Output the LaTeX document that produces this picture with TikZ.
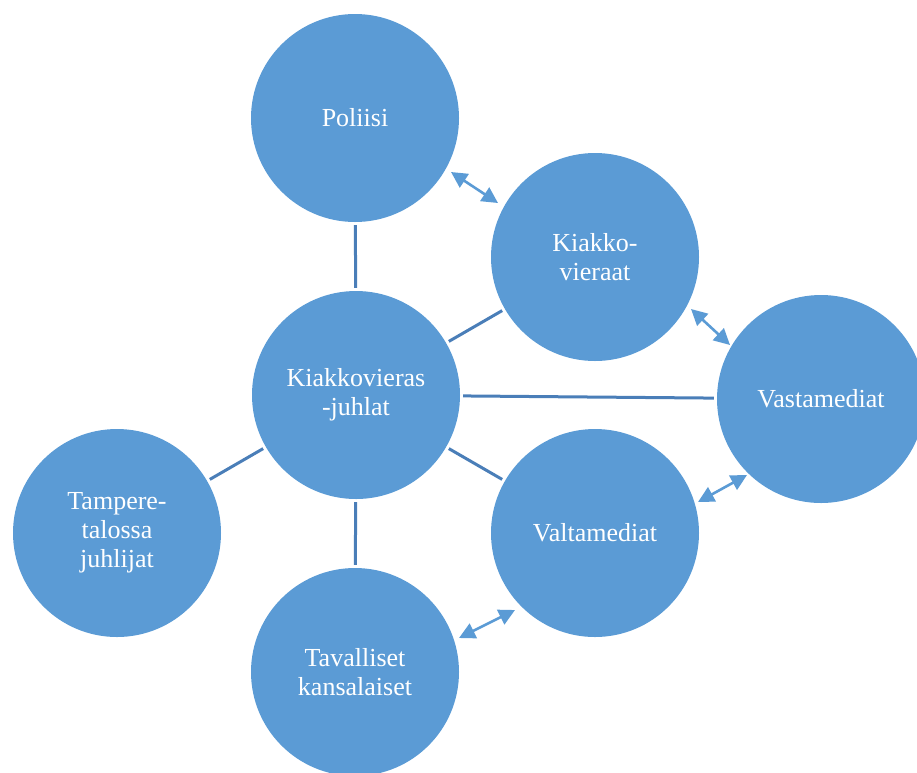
\documentclass[tikz,border=0pt]{standalone}
\usepackage{fontspec}
\setmainfont{Liberation Serif}
\usetikzlibrary{arrows.meta}
\definecolor{bubble}{HTML}{5B9BD5}
\definecolor{linkc}{HTML}{4A7EB8}
\tikzset{
  bub/.style={circle, fill=bubble, draw=none, minimum size=208pt, inner sep=0pt,
    text=white, align=center, font=\fontsize{26}{29}\selectfont},
  link/.style={draw=linkc, line width=3pt, shorten <=3pt, shorten >=3pt},
  dbl/.style={draw=bubble, line width=2.6pt,
    {Triangle[length=16pt,width=16pt]}-{Triangle[length=16pt,width=16pt]}}
}
\begin{document}
\begin{tikzpicture}[x=1pt,y=-1pt]
\useasboundingbox (0,0) rectangle (917,772);
\clip (0,0) rectangle (917,772);
\node[bub] (pol) at (355,118) {Poliisi};
\node[bub] (kia) at (595,257) {Kiakko-\\vieraat};
\node[bub] (mid) at (356,395) {Kiakkovieras\\-juhlat};
\node[bub] (vas) at (821,399) {Vastamediat};
\node[bub] (val) at (595,533) {Valtamediat};
\node[bub] (tav) at (355,672) {Tavalliset\\kansalaiset};
\node[bub] (tam) at (117,533) {Tampere-\\talossa\\juhlijat};
\draw[link] (mid) -- (pol);
\draw[link] (mid) -- (kia);
\draw[link] (mid) -- (vas);
\draw[link] (mid) -- (val);
\draw[link] (mid) -- (tav);
\draw[link] (mid) -- (tam);
\coordinate (a1s) at (451,172); \coordinate (a1e) at (498,203);
\coordinate (a2s) at (691,309); \coordinate (a2e) at (730,345);
\coordinate (a3s) at (698,502); \coordinate (a3e) at (747,475);
\coordinate (a4s) at (459,638); \coordinate (a4e) at (515,610);
\draw[dbl] (a1s) -- (a1e);
\draw[dbl] (a2s) -- (a2e);
\draw[dbl] (a3s) -- (a3e);
\draw[dbl] (a4s) -- (a4e);
\end{tikzpicture}
\end{document}
